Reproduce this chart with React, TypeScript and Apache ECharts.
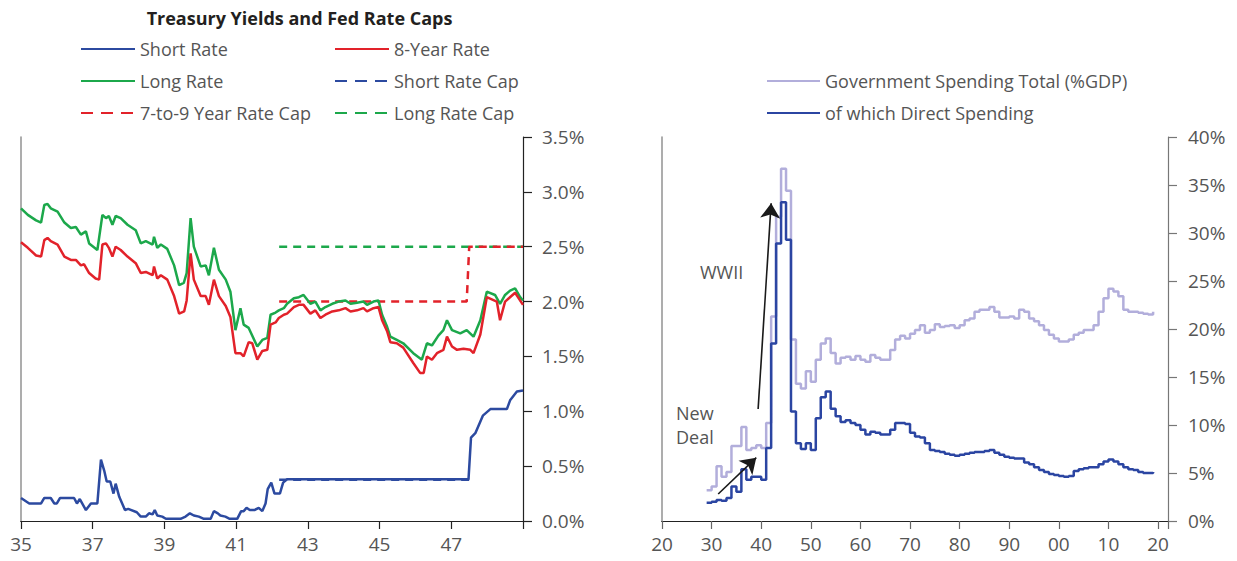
import React, { useEffect, useRef } from "react";
import * as echarts from "echarts";

// ---------- Left chart data: [year (19xx, two-digit), yield %] ----------
const shortRate: [number, number][] = [
  [35.0, 0.21], [35.23, 0.16], [35.56, 0.16], [35.65, 0.21], [35.83, 0.21], [35.93, 0.16],
  [36.0, 0.16], [36.09, 0.21], [36.48, 0.21], [36.56, 0.16], [36.64, 0.2], [36.81, 0.1],
  [36.95, 0.16], [37.13, 0.16], [37.23, 0.56], [37.32, 0.46], [37.39, 0.36], [37.49, 0.36],
  [37.58, 0.25], [37.64, 0.34], [37.74, 0.22], [37.9, 0.1], [37.99, 0.11], [38.23, 0.08],
  [38.34, 0.04], [38.48, 0.04], [38.57, 0.07], [38.67, 0.06], [38.73, 0.1], [38.8, 0.05],
  [38.94, 0.04], [39.04, 0.02], [39.45, 0.02], [39.59, 0.04], [39.71, 0.07], [39.82, 0.05],
  [39.96, 0.04], [40.1, 0.02], [40.29, 0.02], [40.38, 0.09], [40.49, 0.07], [40.56, 0.05],
  [40.7, 0.04], [40.82, 0.02], [41.03, 0.02], [41.14, 0.09], [41.21, 0.09], [41.29, 0.12],
  [41.38, 0.1], [41.51, 0.1], [41.63, 0.12], [41.73, 0.09], [41.82, 0.16], [41.88, 0.29],
  [41.98, 0.35], [42.07, 0.25], [42.22, 0.25], [42.31, 0.35], [42.42, 0.38], [47.48, 0.38],
  [47.55, 0.76], [47.67, 0.8], [47.88, 0.96], [48.09, 1.02], [48.55, 1.02], [48.64, 1.1],
  [48.83, 1.18], [49.0, 1.19],
];

const eightYearRate: [number, number][] = [
  [35.0, 2.54], [35.19, 2.49], [35.42, 2.42], [35.56, 2.41], [35.65, 2.56], [35.74, 2.58],
  [35.83, 2.55], [36.02, 2.52], [36.21, 2.41], [36.39, 2.38], [36.53, 2.38], [36.67, 2.33],
  [36.76, 2.34], [36.9, 2.26], [37.08, 2.21], [37.18, 2.2], [37.27, 2.52], [37.37, 2.53],
  [37.45, 2.49], [37.55, 2.41], [37.64, 2.5], [37.78, 2.47], [37.97, 2.41], [38.2, 2.35],
  [38.34, 2.26], [38.48, 2.27], [38.67, 2.24], [38.71, 2.32], [38.8, 2.21], [38.9, 2.24],
  [39.08, 2.2], [39.27, 2.05], [39.41, 1.89], [39.55, 1.91], [39.62, 2.01], [39.73, 2.44],
  [39.82, 2.2], [40.01, 2.05], [40.15, 2.05], [40.24, 1.97], [40.38, 2.2], [40.52, 2.05],
  [40.71, 1.96], [40.84, 1.86], [40.98, 1.53], [41.12, 1.53], [41.21, 1.5], [41.35, 1.63],
  [41.45, 1.62], [41.59, 1.47], [41.73, 1.55], [41.87, 1.56], [41.96, 1.79], [42.1, 1.81],
  [42.19, 1.85], [42.33, 1.88], [42.42, 1.89], [42.61, 1.95], [42.75, 1.97], [42.88, 1.97],
  [43.07, 1.89], [43.21, 1.92], [43.35, 1.85], [43.49, 1.88], [43.68, 1.91], [43.86, 1.92],
  [44.05, 1.94], [44.19, 1.91], [44.37, 1.92], [44.55, 1.94], [44.65, 1.91], [44.83, 1.94],
  [44.97, 1.95], [45.07, 1.83], [45.21, 1.73], [45.3, 1.63], [45.48, 1.62], [45.66, 1.58],
  [45.94, 1.44], [46.13, 1.35], [46.23, 1.35], [46.32, 1.5], [46.46, 1.47], [46.6, 1.53],
  [46.78, 1.56], [46.88, 1.68], [47.02, 1.59], [47.16, 1.56], [47.34, 1.57], [47.53, 1.56],
  [47.62, 1.53], [47.81, 1.7], [47.99, 2.04], [48.27, 2.0], [48.36, 1.83], [48.5, 2.0],
  [48.78, 2.08], [49.0, 1.97],
];

const longRate: [number, number][] = [
  [35.0, 2.85], [35.19, 2.79], [35.42, 2.74], [35.56, 2.72], [35.65, 2.88], [35.74, 2.89],
  [35.83, 2.85], [36.02, 2.82], [36.21, 2.72], [36.39, 2.67], [36.53, 2.68], [36.67, 2.61],
  [36.81, 2.64], [36.9, 2.53], [37.13, 2.47], [37.27, 2.79], [37.37, 2.76], [37.45, 2.78],
  [37.55, 2.7], [37.64, 2.78], [37.78, 2.76], [37.97, 2.7], [38.2, 2.65], [38.34, 2.53],
  [38.48, 2.55], [38.67, 2.52], [38.71, 2.59], [38.8, 2.49], [38.9, 2.52], [39.08, 2.48],
  [39.27, 2.33], [39.41, 2.15], [39.54, 2.17], [39.62, 2.26], [39.73, 2.76], [39.82, 2.5],
  [40.01, 2.32], [40.15, 2.33], [40.24, 2.24], [40.38, 2.49], [40.52, 2.29], [40.71, 2.2],
  [40.84, 2.09], [40.98, 1.74], [41.12, 1.94], [41.21, 1.79], [41.35, 1.76], [41.59, 1.59],
  [41.73, 1.65], [41.87, 1.67], [41.96, 1.88], [42.1, 1.9], [42.19, 1.92], [42.33, 1.94],
  [42.42, 1.98], [42.61, 2.03], [42.75, 2.04], [42.88, 2.06], [43.07, 1.98], [43.21, 2.0],
  [43.35, 1.92], [43.49, 1.95], [43.68, 1.98], [43.86, 2.0], [44.05, 2.01], [44.19, 1.98],
  [44.37, 1.99], [44.55, 2.0], [44.65, 1.97], [44.83, 2.0], [44.97, 2.01], [45.07, 1.88],
  [45.21, 1.77], [45.3, 1.68], [45.48, 1.65], [45.66, 1.62], [45.94, 1.53], [46.18, 1.47],
  [46.32, 1.62], [46.46, 1.6], [46.64, 1.69], [46.78, 1.74], [46.88, 1.83], [47.02, 1.74],
  [47.25, 1.71], [47.43, 1.74], [47.62, 1.68], [47.81, 1.83], [47.99, 2.09], [48.22, 2.06],
  [48.36, 1.98], [48.5, 2.06], [48.64, 2.1], [48.78, 2.12], [48.92, 2.04], [49.0, 2.01],
];

const shortRateCap: [number, number][] = [[42.2, 0.375], [47.5, 0.375]];
const bondRateCap: [number, number][] = [[42.2, 2.0], [47.43, 2.0], [47.5, 2.5], [49.0, 2.5]];
const longRateCap: [number, number][] = [[42.2, 2.5], [49.0, 2.5]];

// ---------- Right chart data: government spending, % of GDP ----------
const spendingYears: number[] = Array.from({ length: 91 }, (_, i) => 1929 + i);
const totalSpending: number[] = [
  3.2, 3.6, 5.7, 4.6, 5.1, 7.8, 7.8, 9.8, 7.4, 7.6,
  7.9, 7.6, 10.2, 21.3, 31.7, 36.7, 34.4, 18.9, 14.3, 13.8,
  15.6, 14.5, 16.8, 18.5, 19.0, 17.5, 16.4, 17.0, 17.1, 16.8,
  17.2, 16.8, 16.6, 17.3, 17.0, 16.8, 16.8, 17.8, 18.9, 19.3,
  19.0, 19.5, 19.9, 20.4, 19.6, 19.9, 20.5, 20.2, 20.3, 20.4,
  20.1, 20.4, 20.9, 21.1, 21.8, 22.0, 22.0, 22.3, 21.8, 21.2,
  21.2, 21.3, 21.1, 22.0, 21.8, 21.1, 20.8, 20.4, 19.9, 19.4,
  19.0, 18.7, 18.7, 18.9, 19.4, 19.6, 19.9, 19.9, 20.4, 21.8,
  23.2, 24.2, 23.9, 23.4, 22.0, 21.8, 21.8, 21.7, 21.6, 21.5,
  21.8,
];
const directSpending: number[] = [
  1.9, 2.0, 2.2, 2.1, 2.4, 3.6, 3.05, 5.4, 4.3, 4.6,
  4.6, 4.3, 7.6, 18.5, 28.9, 33.2, 29.3, 11.4, 8.1, 7.5,
  8.1, 7.4, 10.7, 12.9, 13.5, 11.7, 10.9, 10.3, 10.5, 10.2,
  10.0, 9.5, 9.0, 9.3, 9.2, 9.0, 9.0, 9.5, 10.2, 10.2,
  10.1, 9.2, 8.8, 8.7, 8.1, 7.4, 7.3, 7.2, 7.0, 6.9,
  6.8, 6.9, 7.0, 7.1, 7.2, 7.2, 7.3, 7.4, 7.1, 6.9,
  6.7, 6.6, 6.5, 6.5, 6.1, 5.9, 5.6, 5.3, 5.1, 4.9,
  4.8, 4.7, 4.6, 4.7, 5.2, 5.4, 5.5, 5.6, 5.6, 5.9,
  6.2, 6.4, 6.2, 5.9, 5.6, 5.4, 5.3, 5.1, 5.0, 5.0,
  5.1,
];

// Annotation arrows (data coordinates: [year, % of GDP]); second point is the tip
const wwiiArrow: [number, number][] = [[1939.38, 11.67], [1942.0, 33.1]];
const newDealArrow: [number, number][] = [[1931.33, 2.81], [1939.0, 6.6]];

const FONT = "'Open Sans', 'DejaVu Sans', sans-serif";
const BLUE = "#2c4aa0";
const RED = "#e2222a";
const GREEN = "#1ca84b";
const LILAC = "#b2aedb";
const DARKBLUE = "#2b45a2";
const LABEL = "#555555";

export default function App() {
  const ref = useRef<HTMLDivElement>(null);

  useEffect(() => {
    if (!ref.current) return;
    const chart = echarts.init(ref.current, undefined, { renderer: "svg" });

    const pair = (ys: number[]) => spendingYears.map((y, i) => [y, ys[i]]);
    const lineW = 2.5;
    const dash = [8, 6];

    const axisLabelStyle = { color: LABEL, fontSize: 19, fontFamily: FONT };
    const legendBase = {
      orient: "vertical", padding: 0, itemGap: 12, itemWidth: 54, itemHeight: 20,
      selectedMode: false,
      itemStyle: { opacity: 0 },
      textStyle: { color: LABEL, fontSize: 18, fontFamily: FONT, lineHeight: 20 },
    };

    const option: any = {
      animation: false,
      textStyle: { fontFamily: FONT },
      grid: [
        { left: 21, right: 714, top: 137, bottom: 40 },
        { left: 662, right: 69, top: 137, bottom: 40 },
      ],
      xAxis: [
        {
          type: "value", gridIndex: 0, min: 35, max: 49, interval: 2,
          axisLine: { lineStyle: { color: "#222", width: 1.2 } },
          axisTick: { length: 8, lineStyle: { color: "#222", width: 1.2 } },
          axisLabel: { ...axisLabelStyle, margin: 13, formatter: (v: number) => (v >= 49 ? "" : String(v)) },
          splitLine: { show: false },
        },
        {
          type: "value", gridIndex: 0, position: "top", min: 35, max: 49,
          axisLine: { lineStyle: { color: "#222", width: 1.2 } },
          axisTick: { show: false }, axisLabel: { show: false }, splitLine: { show: false },
        },
        {
          type: "value", gridIndex: 1, min: 1920, max: 2022, interval: 10,
          axisLine: { lineStyle: { color: "#222", width: 1.2 } },
          axisTick: { length: 8, lineStyle: { color: "#666", width: 1.2 } },
          axisLabel: {
            ...axisLabelStyle, margin: 13,
            formatter: (v: number) => (v > 2020 ? "" : String(v % 100).padStart(2, "0")),
          },
          splitLine: { show: false },
        },
        {
          type: "value", gridIndex: 1, position: "top", min: 1920, max: 2022,
          axisLine: { lineStyle: { color: "#222", width: 1.2 } },
          axisTick: { show: false }, axisLabel: { show: false }, splitLine: { show: false },
        },
      ],
      yAxis: [
        {
          type: "value", gridIndex: 0, position: "right", min: 0, max: 3.5, interval: 0.5,
          axisLine: { show: true, lineStyle: { color: "#222", width: 1.2 } },
          axisTick: { show: true, length: 9, lineStyle: { color: "#222", width: 1.2 } },
          axisLabel: { ...axisLabelStyle, margin: 19, formatter: (v: number) => v.toFixed(1) + "%" },
          splitLine: { show: false },
        },
        {
          type: "value", gridIndex: 0, position: "left", min: 0, max: 3.5,
          axisLine: { show: true, lineStyle: { color: "#999", width: 1.6 } },
          axisTick: { show: false }, axisLabel: { show: false }, splitLine: { show: false },
        },
        {
          type: "value", gridIndex: 1, position: "right", min: 0, max: 40, interval: 5,
          axisLine: { show: true, lineStyle: { color: "#777", width: 1.2 } },
          axisTick: { show: true, length: 9, lineStyle: { color: "#777", width: 1.2 } },
          axisLabel: { ...axisLabelStyle, margin: 20, formatter: (v: number) => v + "%" },
          splitLine: { show: false },
        },
        {
          type: "value", gridIndex: 1, position: "left", min: 0, max: 40,
          axisLine: { show: true, lineStyle: { color: "#999", width: 1.6 } },
          axisTick: { show: false }, axisLabel: { show: false }, splitLine: { show: false },
        },
      ],
      legend: [
        {
          ...legendBase, left: 80, top: 39,
          data: [
            { name: "Short Rate" },
            { name: "Long Rate" },
            { name: "7-to-9 Year Rate Cap", lineStyle: { type: [12, 8] } },
          ],
        },
        {
          ...legendBase, left: 334, top: 39,
          data: [
            { name: "8-Year Rate" },
            { name: "Short Rate Cap", lineStyle: { type: [12, 8] } },
            { name: "Long Rate Cap", lineStyle: { type: [12, 8] } },
          ],
        },
        {
          ...legendBase, left: 766, top: 71, itemWidth: 53,
          data: [{ name: "Government Spending Total (%GDP)" }, { name: "of which Direct Spending" }],
        },
      ],
      graphic: [
        {
          type: "text", x: 299.5, y: 18, silent: true,
          style: {
            text: "Treasury Yields and Fed Rate Caps", fill: "#231f20",
            font: `bold 18px ${FONT}`, align: "center", verticalAlign: "middle",
            textAlign: "center", textVerticalAlign: "middle",
          },
        },
        {
          type: "text", x: 700, y: 272, silent: true,
          style: {
            text: "WWII", fill: LABEL, font: `18px ${FONT}`,
            verticalAlign: "middle", textVerticalAlign: "middle",
          },
        },
        {
          type: "text", x: 676, y: 425, silent: true,
          style: {
            text: "New\nDeal", fill: LABEL, font: `18px ${FONT}`, lineHeight: 24,
            verticalAlign: "middle", textVerticalAlign: "middle",
          },
        },
      ],
      series: [
        {
          name: "Long Rate Cap", type: "line", xAxisIndex: 0, yAxisIndex: 0, data: longRateCap,
          symbol: "none", silent: true, color: GREEN,
          lineStyle: { color: GREEN, width: lineW, type: dash },
        },
        {
          name: "7-to-9 Year Rate Cap", type: "line", xAxisIndex: 0, yAxisIndex: 0, data: bondRateCap,
          symbol: "none", silent: true, color: RED,
          lineStyle: { color: RED, width: lineW, type: dash },
        },
        {
          name: "Long Rate", type: "line", xAxisIndex: 0, yAxisIndex: 0, data: longRate,
          symbol: "none", silent: true, color: GREEN,
          lineStyle: { color: GREEN, width: lineW },
        },
        {
          name: "8-Year Rate", type: "line", xAxisIndex: 0, yAxisIndex: 0, data: eightYearRate,
          symbol: "none", silent: true, color: RED,
          lineStyle: { color: RED, width: lineW },
        },
        {
          name: "Short Rate", type: "line", xAxisIndex: 0, yAxisIndex: 0, data: shortRate,
          symbol: "none", silent: true, color: BLUE,
          lineStyle: { color: BLUE, width: lineW },
        },
        {
          name: "Short Rate Cap", type: "line", xAxisIndex: 0, yAxisIndex: 0, data: shortRateCap,
          symbol: "none", silent: true, color: BLUE,
          lineStyle: { color: BLUE, width: lineW, type: dash },
        },
        {
          name: "Government Spending Total (%GDP)", type: "line", xAxisIndex: 2, yAxisIndex: 2,
          data: pair(totalSpending), step: "end", symbol: "none", silent: true, color: LILAC,
          lineStyle: { color: LILAC, width: lineW },
        },
        {
          name: "of which Direct Spending", type: "line", xAxisIndex: 2, yAxisIndex: 2,
          data: pair(directSpending), step: "end", symbol: "none", silent: true, color: DARKBLUE,
          lineStyle: { color: DARKBLUE, width: lineW },
        },
        {
          name: "annotations", type: "line", xAxisIndex: 2, yAxisIndex: 2, data: [],
          symbol: "none", silent: true,
          markLine: {
            silent: true, animation: false, symbol: ["none", "arrow"], symbolSize: 15,
            symbolOffset: [0, 0],
            label: { show: false }, emphasis: { disabled: true },
            lineStyle: { color: "#1a1a1a", width: 1.6, type: "solid", opacity: 1 },
            itemStyle: { color: "#1a1a1a" },
            data: [
              [{ coord: wwiiArrow[0] }, { coord: wwiiArrow[1] }],
              [{ coord: newDealArrow[0] }, { coord: newDealArrow[1] }],
            ],
          },
        },
      ],
    };

    chart.setOption(option);
    return () => chart.dispose();
  }, []);

  return (
    <div
      ref={ref}
      style={{ position: "absolute", left: 0, top: 0, width: 1237, height: 561, background: "#fff" }}
    />
  );
}
